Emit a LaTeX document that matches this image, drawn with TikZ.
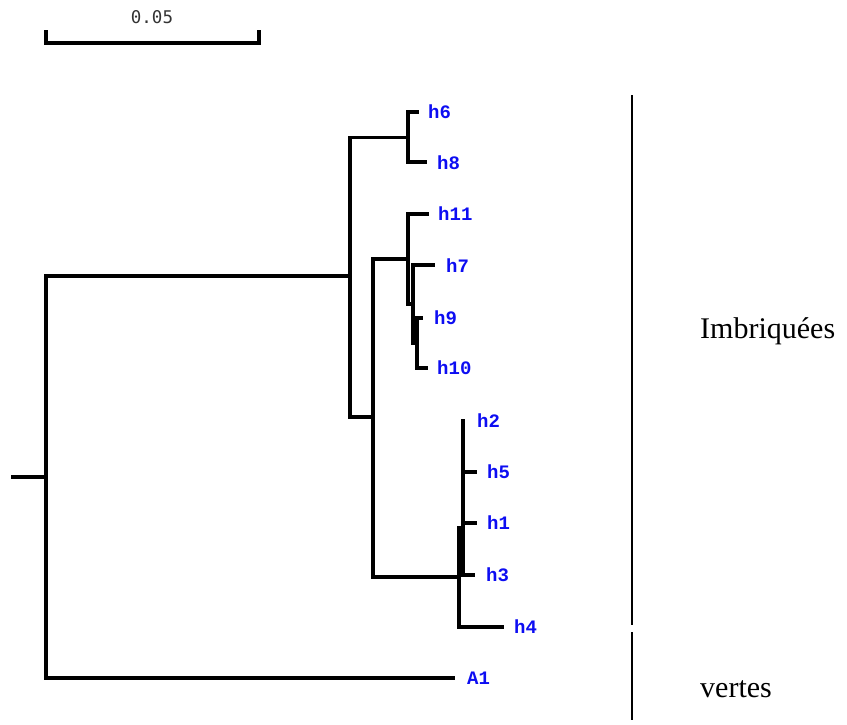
\documentclass[tikz,border=0pt]{standalone}
\usepackage{fontspec}
\setmainfont{Liberation Serif}
\newfontfamily\tipfont{Liberation Mono}
\newfontfamily\barfont{DejaVu Sans Mono}
\definecolor{tipblue}{rgb}{0.05,0.05,0.95}
\definecolor{bargray}{rgb}{0.2,0.2,0.2}
\tikzset{
  branch/.style={line width=3.2pt, line cap=rect, line join=miter},
  tiplab/.style={anchor=west, inner sep=0pt, text=tipblue, font=\tipfont\bfseries\fontsize{19}{19}\selectfont},
  grouplab/.style={anchor=base west, inner sep=0pt, font=\fontsize{30}{30}\selectfont},
  scalelab/.style={inner sep=0pt, text=bargray, font=\barfont\fontsize{17.5}{17.5}\selectfont},
  groupbar/.style={line width=2.8pt}
}
\begin{document}
\begin{tikzpicture}[x=1pt,y=-1pt]
\useasboundingbox (0,0) rectangle (847,724);
% scale bar
\coordinate (sbL) at (46,43);
\coordinate (sbR) at (259,43);
\coordinate (sbLt) at (46,32);
\coordinate (sbRt) at (259,32);
\draw[branch] (sbLt) -- (sbL) -- (sbR) -- (sbRt);
\node[scalelab] (sblab) at (152,17) {0.05};
% internal nodes
\coordinate (r0) at (13,477);
\coordinate (root) at (46,477);
\coordinate (n1) at (350,276);
\coordinate (n68) at (408,137.5);
\coordinate (n2) at (373,417);
\coordinate (n3) at (408,259);
\coordinate (nB) at (413,304);
\coordinate (nC) at (417,343);
\coordinate (nD) at (459,577);
\coordinate (nE) at (463,528);
% tips
\coordinate (t6) at (417,112);
\coordinate (t8) at (425,162);
\coordinate (t11) at (427,214);
\coordinate (t7) at (433,265);
\coordinate (t9) at (421,318);
\coordinate (t10) at (426,368);
\coordinate (t2) at (463,421);
\coordinate (t5) at (475,472);
\coordinate (t1) at (475,523);
\coordinate (t3) at (473,575);
\coordinate (t4) at (502,627);
\coordinate (tA1) at (453,678);
% branches
\draw[branch] (r0) -- (root);
\draw[branch] (root) |- (n1);
\draw[branch] (root) |- (tA1);
\draw[branch] (n1) |- (n68);
\draw[branch] (n1) |- (n2);
\draw[branch] (n68) |- (t6);
\draw[branch] (n68) |- (t8);
\draw[branch] (n2) |- (n3);
\draw[branch] (n2) |- (nD);
\draw[branch] (n3) |- (t11);
\draw[branch] (n3) |- (nB);
\draw[branch] (nB) |- (t7);
\draw[branch] (nB) |- (nC);
\draw[branch] (nC) |- (t9);
\draw[branch] (nC) |- (t10);
\draw[branch] (nD) |- (nE);
\draw[branch] (nD) |- (t4);
\draw[branch] (nE) |- (t2);
\draw[branch] (nE) |- (t5);
\draw[branch] (nE) |- (t1);
\draw[branch] (nE) |- (t3);
% tip labels
\node[tiplab] (h6) at (428,112) {h6};
\node[tiplab] (h8) at (437,163) {h8};
\node[tiplab] (h11) at (438,214) {h11};
\node[tiplab] (h7) at (446,266) {h7};
\node[tiplab] (h9) at (434,318) {h9};
\node[tiplab] (h10) at (437,368) {h10};
\node[tiplab] (h2) at (477,421) {h2};
\node[tiplab] (h5) at (487,472) {h5};
\node[tiplab] (h1) at (487,523) {h1};
\node[tiplab] (h3) at (486,575) {h3};
\node[tiplab] (h4) at (514,627) {h4};
\node[tiplab] (A1) at (467,678) {A1};
% group bars
\coordinate (g1t) at (632,95);
\coordinate (g1b) at (632,625);
\coordinate (g2t) at (632,632);
\coordinate (g2b) at (632,720);
\draw[groupbar] (g1t) -- (g1b);
\draw[groupbar] (g2t) -- (g2b);
\node[grouplab] (imb) at (700,338) {Imbriquées};
\node[grouplab] (ver) at (700,697) {vertes};
\end{tikzpicture}
\end{document}
